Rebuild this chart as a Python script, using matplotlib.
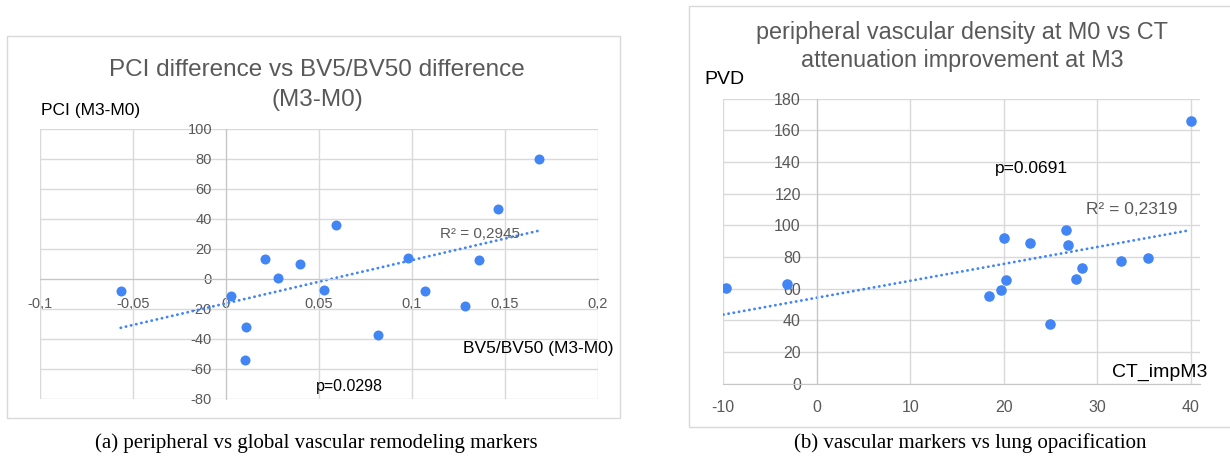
import numpy as np
import matplotlib
matplotlib.use("Agg")
import matplotlib.pyplot as plt
from matplotlib.patches import Rectangle

plt.rcParams['font.family'] = ['Liberation Sans', 'DejaVu Sans']
plt.rcParams['axes.unicode_minus'] = False

W, H = 1230, 457

# (a) PCI difference vs BV5/BV50 difference
bv_diff = [-0.0566, 0.0025, 0.0106, 0.0104, 0.021, 0.0278, 0.0398, 0.0528,
           0.0591, 0.0816, 0.0977, 0.107, 0.1286, 0.136, 0.1464, 0.1684]
pci_diff = [-8.4, -11.3, -31.8, -54.2, 13.3, 0.4, 9.6, -7.1,
            36.2, -37.6, 14.2, -8.0, -18.2, 12.7, 46.7, 79.8]
a_xticks = [-0.1, -0.05, 0, 0.05, 0.1, 0.15, 0.2]
a_xlabels = ['-0,1', '-0,05', '0', '0,05', '0,1', '0,15', '0,2']
a_yticks = [-80, -60, -40, -20, 0, 20, 40, 60, 80, 100]

# (b) PVD at M0 vs CT attenuation improvement at M3
ct_imp = [-9.76, -3.2, 18.4, 19.7, 20.0, 20.2, 22.8, 24.9,
          26.7, 26.9, 27.7, 28.4, 32.6, 35.4, 40.0]
pvd = [60.2, 63.1, 55.4, 59.2, 92.1, 65.4, 88.9, 37.5,
       97.1, 87.5, 65.9, 73.0, 77.4, 79.1, 165.9]
b_xticks = [-10, 0, 10, 20, 30, 40]
b_yticks = [0, 20, 40, 60, 80, 100, 120, 140, 160, 180]

blue = '#4285f4'
grid_c = '#d9d9d9'
zero_c = '#c6c6c6'
gray = '#595959'
serif = ['Liberation Serif', 'DejaVu Serif']


def px(x, y):
    return x / W, 1 - y / H


def make_axes(fig, left, top, right, bottom):
    ax = fig.add_axes([left / W, 1 - bottom / H, (right - left) / W, (bottom - top) / H])
    return ax


fig = plt.figure(figsize=(W / 100, H / 100), dpi=100)

# chart frames
fig.patches.append(Rectangle(px(7, 418), 613 / W, 382 / H, transform=fig.transFigure,
                             fill=False, ec=grid_c, lw=1))
fig.patches.append(Rectangle(px(689, 427), 560 / W, 421 / H, transform=fig.transFigure,
                             fill=False, ec=grid_c, lw=1))

# ---- chart a ----
ax = make_axes(fig, 40, 128.7, 598, 399)
ax.scatter(bv_diff, pci_diff, s=52, color=blue, zorder=3, linewidths=0)
coef = np.polyfit(bv_diff, pci_diff, 1)
xs = np.array([min(bv_diff), max(bv_diff)])
ax.plot(xs, np.polyval(coef, xs), color=blue, lw=2, linestyle=(0, (0.1, 1.8)),
        dash_capstyle='round', zorder=2)
ax.set_xlim(-0.1, 0.2)
ax.set_ylim(-80, 100)
ax.set_xticks(a_xticks, a_xlabels)
ax.set_yticks(a_yticks)
ax.grid(True, color=grid_c, lw=1)
ax.set_axisbelow(True)
for s in ['top', 'right']:
    ax.spines[s].set_visible(False)
ax.spines['left'].set_position(('data', 0))
ax.spines['bottom'].set_position(('data', 0))
ax.spines['left'].set_color(zero_c)
ax.spines['bottom'].set_color(zero_c)
ax.tick_params(axis='x', length=0, pad=13, labelsize=10.5, labelcolor=gray)
ax.tick_params(axis='y', length=0, pad=10, labelsize=10.5, labelcolor=gray)

fig.text(*px(317, 70), 'PCI difference vs BV5/BV50 difference', ha='center',
         va='center', fontsize=17.5, color=gray)
fig.text(*px(317, 100), '(M3-M0)', ha='center', va='center', fontsize=17.5, color=gray)
fig.text(*px(40.7, 111), 'PCI (M3-M0)', ha='left', va='center', fontsize=12.5)
fig.text(*px(463, 348), 'BV5/BV50 (M3-M0)', ha='left', va='center', fontsize=12.5)
fig.text(*px(316, 386), 'p=0.0298', ha='left', va='center', fontsize=11.5)
fig.text(*px(440, 234), 'R² = 0,2945', ha='left', va='center', fontsize=11, color=gray)

# ---- chart b ----
bx = make_axes(fig, 723.3, 98.7, 1200, 383.7)
bx.scatter(ct_imp, pvd, s=58, color=blue, zorder=3, linewidths=0)
coef_b = np.polyfit(ct_imp, pvd, 1)
xs_b = np.array([-10, max(ct_imp)])
bx.plot(xs_b, np.polyval(coef_b, xs_b), color=blue, lw=2, linestyle=(0, (0.1, 1.8)),
        dash_capstyle='round', zorder=2)
bx.set_xlim(-10, 41)
bx.set_ylim(0, 180)
bx.set_xticks(b_xticks)
bx.set_yticks(b_yticks)
bx.grid(True, color=grid_c, lw=1)
bx.set_axisbelow(True)
for s in ['top', 'right']:
    bx.spines[s].set_visible(False)
bx.spines['left'].set_position(('data', 0))
bx.spines['left'].set_color(zero_c)
bx.spines['bottom'].set_color(zero_c)
bx.tick_params(axis='x', length=0, pad=11.5, labelsize=11.5, labelcolor=gray)
bx.tick_params(axis='y', length=0, pad=11.5, labelsize=11.5, labelcolor=gray)

fig.text(*px(962, 33), 'peripheral vascular density at M0 vs CT', ha='center',
         va='center', fontsize=16.8, color=gray)
fig.text(*px(962, 60), 'attenuation improvement at M3', ha='center',
         va='center', fontsize=16.8, color=gray)
fig.text(*px(704, 80), 'PVD', ha='left', va='center', fontsize=14)
fig.text(*px(1111.7, 372.3), 'CT_impM3', ha='left', va='center', fontsize=14)
fig.text(*px(994.6, 168), 'p=0.0691', ha='left', va='center', fontsize=12.5)
fig.text(*px(1085.8, 209.5), 'R² = 0,2319', ha='left', va='center', fontsize=12.5, color=gray)

# captions
fig.text(*px(316, 443), '(a) peripheral vs global vascular remodeling markers', ha='center',
         va='center', fontsize=15, family=serif)
fig.text(*px(970, 443), '(b) vascular markers vs lung opacification', ha='center',
         va='center', fontsize=15, family=serif)

fig.savefig('out.png', dpi=100)
